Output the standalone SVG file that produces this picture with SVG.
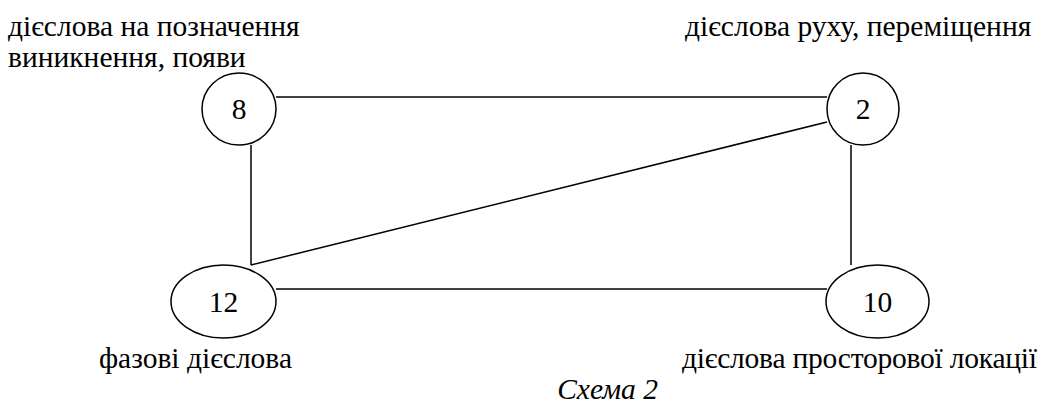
<svg xmlns="http://www.w3.org/2000/svg" width="1042" height="405" viewBox="0 0 1042 405">
<style>
.n{fill:#fff;stroke:#000;stroke-width:1.5}
.c line{stroke:#000;stroke-width:1.5}
.t{font-family:'Liberation Serif','Times New Roman',serif;font-size:29.5px;fill:#000}
.num{text-anchor:middle}
.cap{font-style:italic}
</style>
<rect width="1042" height="405" fill="#fff"/>
<g id="connectors" class="c">
<line x1="276" y1="97" x2="827" y2="97"/>
<line x1="827" y1="122" x2="251" y2="265"/>
<line x1="251" y1="145" x2="251" y2="265"/>
<line x1="851" y1="145" x2="851" y2="265"/>
<line x1="276" y1="289" x2="827" y2="289"/>
</g>
<g id="node8">
<ellipse class="n" cx="239" cy="109" rx="37" ry="36"/>
<text class="t num" x="239" y="119">8</text>
</g>
<g id="node2">
<ellipse class="n" cx="863" cy="109" rx="36" ry="36"/>
<text class="t num" x="863" y="119">2</text>
</g>
<g id="node12">
<ellipse class="n" cx="223.5" cy="301.5" rx="52.5" ry="36.5"/>
<text class="t num" x="223.5" y="312">12</text>
</g>
<g id="node10">
<ellipse class="n" cx="877.5" cy="301.5" rx="51.5" ry="36.5"/>
<text class="t num" x="877.5" y="312">10</text>
</g>
<g id="labels">
<text class="t" x="8" y="36">дієслова на позначення</text>
<text class="t" x="8" y="67">виникнення, появи</text>
<text class="t" x="685" y="36">дієслова руху, переміщення</text>
<text class="t" x="99" y="368">фазові дієслова</text>
<text class="t" x="682" y="368" textLength="355">дієслова просторової локації</text>
<text class="t cap" x="658" y="399" text-anchor="end">Схема 2</text>
</g>
</svg>
